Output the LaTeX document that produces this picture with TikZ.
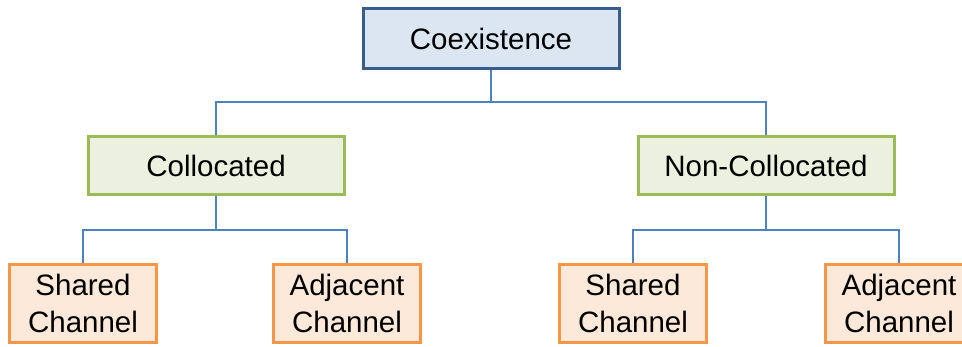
\documentclass[tikz,border=0pt]{standalone}
\usepackage{fontspec}
\setmainfont{Liberation Sans}
\definecolor{rootfill}{HTML}{DCE6F2}
\definecolor{rootdraw}{HTML}{385D8A}
\definecolor{midfill}{HTML}{EBF1DE}
\definecolor{middraw}{HTML}{9BBB59}
\definecolor{leaffill}{HTML}{FDE9D9}
\definecolor{leafdraw}{HTML}{F79646}
\definecolor{linkcol}{HTML}{4F81BD}
\begin{document}
\begin{tikzpicture}[x=1pt,y=-1pt,
  box/.style={rectangle,line width=3pt,inner sep=0pt,align=center,
    font=\fontsize{29.5}{36.5}\selectfont},
  rootbox/.style={box,draw=rootdraw,fill=rootfill,minimum width=256pt,minimum height=60pt},
  midbox/.style={box,draw=middraw,fill=midfill,minimum width=256pt,minimum height=58pt},
  leafbox/.style={box,draw=leafdraw,fill=leaffill,minimum width=147pt,minimum height=78pt},
  link/.style={draw=linkcol,line width=1.5pt}]
\useasboundingbox (0,0) rectangle (962,347);
\clip (0,0) rectangle (962,347);
% hierarchy boxes
\node[rootbox] (root) at (491,38.5) {Coexistence};
\node[midbox] (col) at (216,165.5) {Collocated};
\node[midbox] (ncol) at (766,165.5) {Non-Collocated};
\node[leafbox] (cs) at (83,303.5) {Shared\\Channel};
\node[leafbox] (ca) at (347,303.5) {Adjacent\\Channel};
\node[leafbox] (ns) at (633,303.5) {Shared\\Channel};
\node[leafbox] (na) at (899,303.5) {Adjacent\\Channel};
% elbow connectors
\coordinate (rj) at (491,102);
\coordinate (cj) at (216,230);
\coordinate (nj) at (766,230);
\draw[link] (root.south) -- (rj);
\draw[link] (rj) -| (col.north);
\draw[link] (rj) -| (ncol.north);
\draw[link] (col.south) -- (cj);
\draw[link] (cj) -| (cs.north);
\draw[link] (cj) -| (ca.north);
\draw[link] (ncol.south) -- (nj);
\draw[link] (nj) -| (ns.north);
\draw[link] (nj) -| (na.north);
\end{tikzpicture}
\end{document}
